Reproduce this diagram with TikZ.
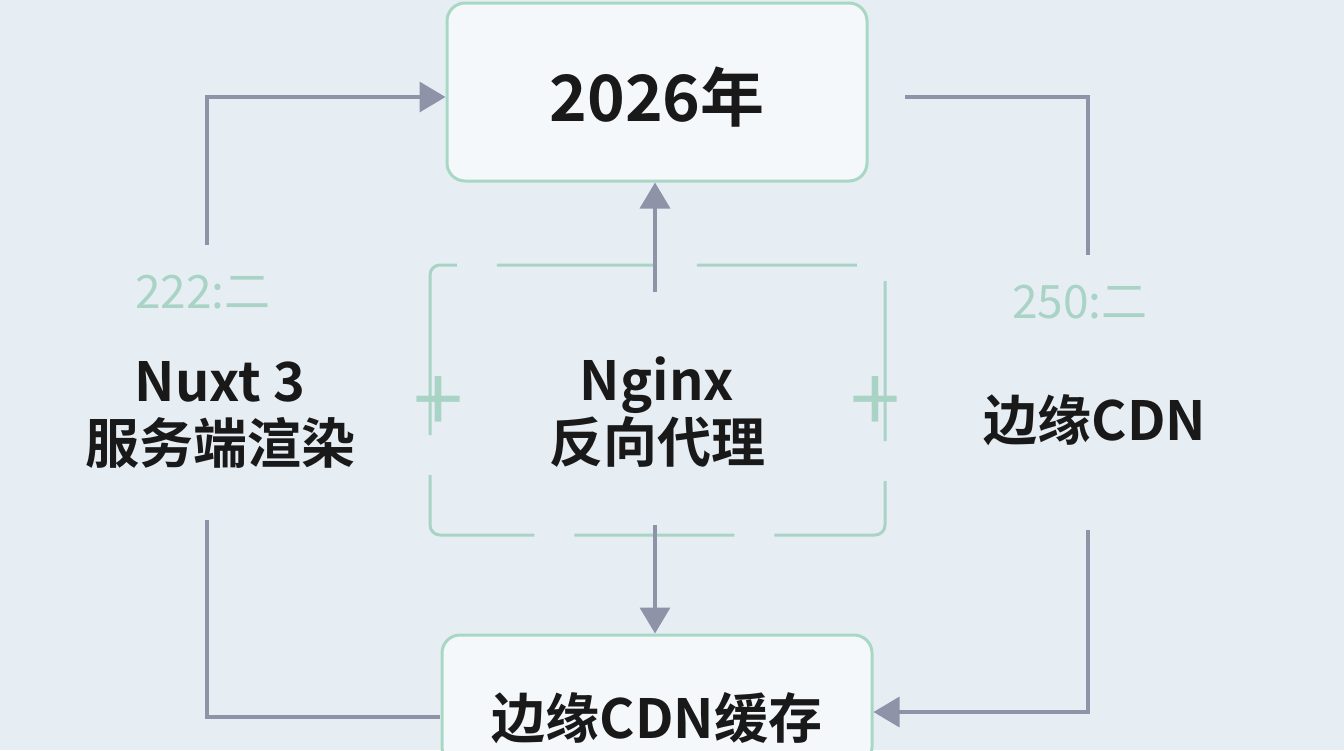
\documentclass[tikz,border=0pt]{standalone}
\usepackage{fontspec}
\setmainfont{Noto Sans CJK SC}[BoldFont={* Bold}]
\usetikzlibrary{arrows.meta}
\definecolor{bgblue}{HTML}{E6EEF4}
\definecolor{boxgreen}{HTML}{A8D8C4}
\definecolor{linegrey}{HTML}{8E93A8}
\definecolor{faint}{HTML}{A9D3C4}
\tikzset{
  box/.style={draw=boxgreen,line width=3pt,rounded corners=18pt,fill=white!60!bgblue,minimum width=430pt,minimum height=180pt},
  lbl/.style={font=\fontsize{54}{62}\selectfont\bfseries,align=center,text=black!90},
  num/.style={font=\fontsize{46}{52}\selectfont,text=faint},
  flow/.style={draw=linegrey,line width=3.5pt,-{Triangle[length=26pt,width=30pt]}},
  flat/.style={draw=linegrey,line width=3.5pt},
  plus/.style={text=faint,font=\fontsize{90}{90}\selectfont}
}
\begin{document}
\begin{tikzpicture}[x=1pt,y=-1pt]
\fill[bgblue] (0,0) rectangle (1344,750);
\useasboundingbox (0,0) rectangle (1344,750);
\node[box,minimum width=420pt,minimum height=178pt] (year) at (657,92) {};
\node[lbl,font=\fontsize{64}{70}\selectfont\bfseries] at (657,97) {2026年};
\node[box,minimum width=430pt,minimum height=130pt] (cache) at (657,700) {};
\node[lbl] at (657,718) {边缘CDN缓存};
% faint frame around the centre
\draw[faint,line width=3pt,rounded corners=10pt,dash pattern=on 160pt off 40pt] (430,265) rectangle (885,535);
\node[lbl] (nuxt) at (220,415) {Nuxt 3\\服务端渲染};
\node[lbl] (nginx) at (657,412) {Nginx\\反向代理};
\node[lbl] (cdn) at (1095,420) {边缘CDN};
\node[num] (ln) at (203,292) {222:二};
\node[num] (rn) at (1080,302) {250:二};
\node[plus] (pl) at (438,405) {+};
\node[plus] (pr) at (875,405) {+};
\coordinate (a1) at (207,245); \coordinate (a2) at (207,97);
\coordinate (b1) at (905,97); \coordinate (b2) at (1088,97); \coordinate (b3) at (1088,255);
\coordinate (c1) at (1088,530); \coordinate (c2) at (1088,712);
\coordinate (d1) at (207,520); \coordinate (d2) at (207,717); \coordinate (d3) at (440,717);
\coordinate (e1) at (655,292); \coordinate (e2) at (655,525);
\draw[flow] (a1) -- (a2) -- (year.west |- a2);
\draw[flat] (b1) -- (b2) -- (b3);
\draw[flow] (c1) -- (c2) -- (cache.east |- c2);
\draw[flat] (d1) -- (d2) -- (d3);
\draw[flow] (e1) -- (year.south -| e1);
\draw[flow] (e2) -- (cache.north -| e2);
\end{tikzpicture}
\end{document}
